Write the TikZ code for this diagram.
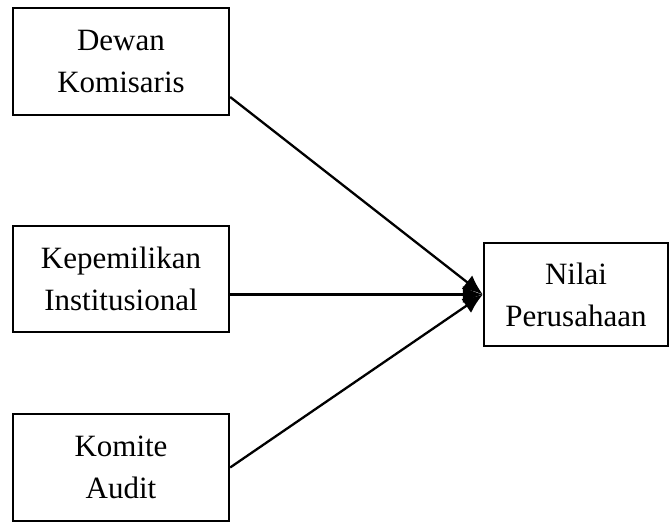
\documentclass[tikz,border=0pt]{standalone}
\usepackage{fontspec}
\setmainfont{Liberation Serif}
\usepackage{tikz}
\usetikzlibrary{arrows.meta, positioning}

\begin{document}
\begin{tikzpicture}[x=1pt, y=-1pt, line width=2.3pt, >={Latex[length=20pt, width=17pt]},
    every node/.style={align=center, font=\fontsize{31}{42}\selectfont},
    varbox/.style={draw, rectangle, inner sep=0pt, minimum width=216pt, minimum height=107pt}]
      \useasboundingbox (0,0) rectangle (670,523);

      % variabel independen
      \node[varbox] (dk) at (121, 61.5) {Dewan\\Komisaris};
      \node[varbox, minimum height=106pt] (ki) at (121, 279) {Kepemilikan\\Institusional};
      \node[varbox] (ka) at (121, 467.5) {Komite\\Audit};
      % variabel dependen
      \node[varbox, minimum width=184pt, minimum height=103pt] (np) at (576, 294.5) {Nilai\\Perusahaan};

      \draw[->] (dk.-18.5) -- (np.west);
      \draw[->] (ki.east |- np.west) -- (np.west);
      \draw[->] (ka.east) -- (np.west);
    \end{tikzpicture}
\end{document}
